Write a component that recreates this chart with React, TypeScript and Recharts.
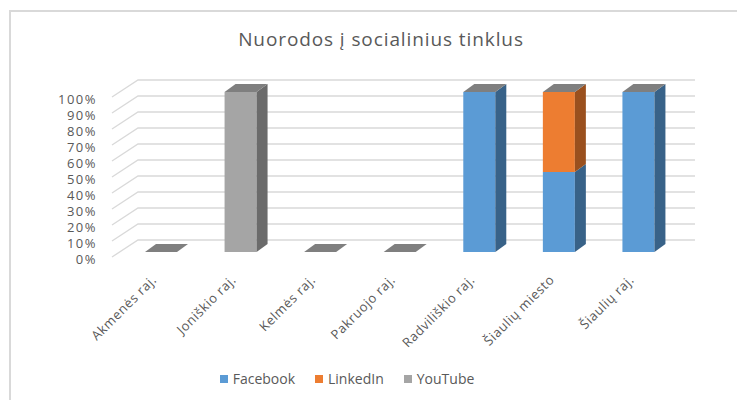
import { BarChart, Bar, XAxis, YAxis, CartesianGrid, Legend } from "recharts";

const categories = [
    "Akmenės raj.",
    "Joniškio raj.",
    "Kelmės raj.",
    "Pakruojo raj.",
    "Radviliškio raj.",
    "Šiaulių miesto",
    "Šiaulių raj.",
];
const facebook = [0, 0, 0, 0, 1, 0.5, 1];
const linkedin = [0, 0, 0, 0, 0, 0.5, 0];
const youtube = [0, 1, 0, 0, 0, 0, 0];
const yTicks = [0, 0.1, 0.2, 0.3, 0.4, 0.5, 0.6, 0.7, 0.8, 0.9, 1];

const SERIES = [
    { key: "Facebook", front: "#5b9bd5", side: "#386288" },
    { key: "LinkedIn", front: "#ed7d31", side: "#9a501e" },
    { key: "YouTube", front: "#a5a5a5", side: "#6b6b6b" },
];
const TOP_COLOR = "#7f7f7f";
const TEXT = "#595959";
const FONT = "'Open Sans', sans-serif";

// bars sit a bit behind the front plane
const SHIFT_X = 9;
const SHIFT_Y = -5;
const DEPTH_X = 11;
const DEPTH_Y = -8;
// back wall offset of gridlines
const WALL_X = 26;
const WALL_Y = -17;

const data = categories.map((name, i) => ({
    name,
    Facebook: facebook[i],
    LinkedIn: linkedin[i],
    YouTube: youtube[i],
}));

function isTopSegment(key: string, payload: any) {
    const idx = SERIES.findIndex((s) => s.key === key);
    const later = SERIES.slice(idx + 1).every((s) => !payload[s.key]);
    if (payload[key] > 0) return later;
    const allZero = SERIES.every((s) => !payload[s.key]);
    return allZero && idx === SERIES.length - 1;
}

function makeShape(key: string, front: string, side: string) {
    return (props: any) => {
        const { x, y, width, height, payload } = props;
        if (x == null || y == null) return <g />;
        const left = x + SHIFT_X;
        const top = y + SHIFT_Y;
        const h = height || 0;
        const right = left + width;
        const bottom = top + h;
        const showTop = isTopSegment(key, payload);
        return (
            <g>
                {h > 0 && <rect x={left} y={top} width={width} height={h} fill={front} />}
                {h > 0 && (
                    <polygon
                        points={`${right},${bottom} ${right},${top} ${right + DEPTH_X},${top + DEPTH_Y} ${right + DEPTH_X},${bottom + DEPTH_Y}`}
                        fill={side}
                    />
                )}
                {showTop && (
                    <polygon
                        points={`${left},${top} ${right},${top} ${right + DEPTH_X},${top + DEPTH_Y} ${left + DEPTH_X},${top + DEPTH_Y}`}
                        fill={TOP_COLOR}
                    />
                )}
            </g>
        );
    };
}

function GridLine(props: any) {
    const { x1, y1, x2 } = props;
    return (
        <path
            d={`M${x1},${y1} L${x1 + WALL_X},${y1 + WALL_Y} L${x2 + WALL_X},${y1 + WALL_Y}`}
            stroke="#d9d9d9"
            strokeWidth={1.3}
            fill="none"
        />
    );
}

function YTick(props: any) {
    const { x, y, payload } = props;
    return (
        <text
            x={x}
            y={y + 2}
            textAnchor="end"
            dominantBaseline="central"
            fontSize={13}
            letterSpacing={1.5}
            fontFamily={FONT}
            fill={TEXT}
        >
            {`${Math.round(payload.value * 100)}%`}
        </text>
    );
}

function XTick(props: any) {
    const { x, y, payload } = props;
    const ax = x + 2;
    const ay = y + 12;
    return (
        <text
            x={ax}
            y={ay}
            transform={`rotate(-45 ${ax} ${ay})`}
            textAnchor="end"
            dominantBaseline="central"
            fontSize={13}
            letterSpacing={0.6}
            fontFamily={FONT}
            fill={TEXT}
        >
            {payload.value}
        </text>
    );
}

function LegendContent() {
    return (
        <div style={{ display: "flex", justifyContent: "center", gap: 20, fontFamily: FONT, fontSize: 14, color: TEXT }}>
            {SERIES.map((s) => (
                <div key={s.key} style={{ display: "flex", alignItems: "center", gap: 5 }}>
                    <div style={{ width: 8, height: 8, backgroundColor: s.front }} />
                    <span>{s.key}</span>
                </div>
            ))}
        </div>
    );
}

export default function App() {
    return (
        <div style={{ position: "fixed", left: 0, top: 0, width: 737, height: 400, background: "#fff" }}>
            <div
                style={{
                    position: "absolute",
                    left: 9,
                    top: 10,
                    right: 0,
                    bottom: 0,
                    borderTop: "2px solid #d9d9d9",
                    borderLeft: "2px solid #d9d9d9",
                }}
            />
            <div
                style={{
                    position: "absolute",
                    left: 0,
                    width: 762,
                    top: 26,
                    textAlign: "center",
                    fontFamily: FONT,
                    fontSize: 19,
                    letterSpacing: 0.9,
                    color: TEXT,
                }}
            >
                Nuorodos į socialinius tinklus
            </div>
            <BarChart
                width={737}
                height={400}
                data={data}
                margin={{ top: 97, right: 68, bottom: 63, left: 52 }}
                barSize={32}
                style={{ position: "absolute", left: 0, top: 0 }}
            >
                <CartesianGrid vertical={false} horizontal={<GridLine />} />
                <YAxis
                    width={60}
                    domain={[0, 1]}
                    ticks={yTicks}
                    axisLine={false}
                    tickLine={false}
                    tickSize={0}
                    tickMargin={15}
                    tick={<YTick />}
                    interval={0}
                />
                <XAxis dataKey="name" axisLine={false} tickLine={false} tick={<XTick />} interval={0} height={80} />
                <Legend
                    layout="horizontal"
                    verticalAlign="middle"
                    content={<LegendContent />}
                    wrapperStyle={{ position: "absolute", left: 0, width: 694, top: 369 }}
                />
                {SERIES.map((s) => (
                    <Bar
                        key={s.key}
                        dataKey={s.key}
                        stackId="a"
                        fill={s.front}
                        isAnimationActive={false}
                        shape={makeShape(s.key, s.front, s.side)}
                    />
                ))}
            </BarChart>
        </div>
    );
}
